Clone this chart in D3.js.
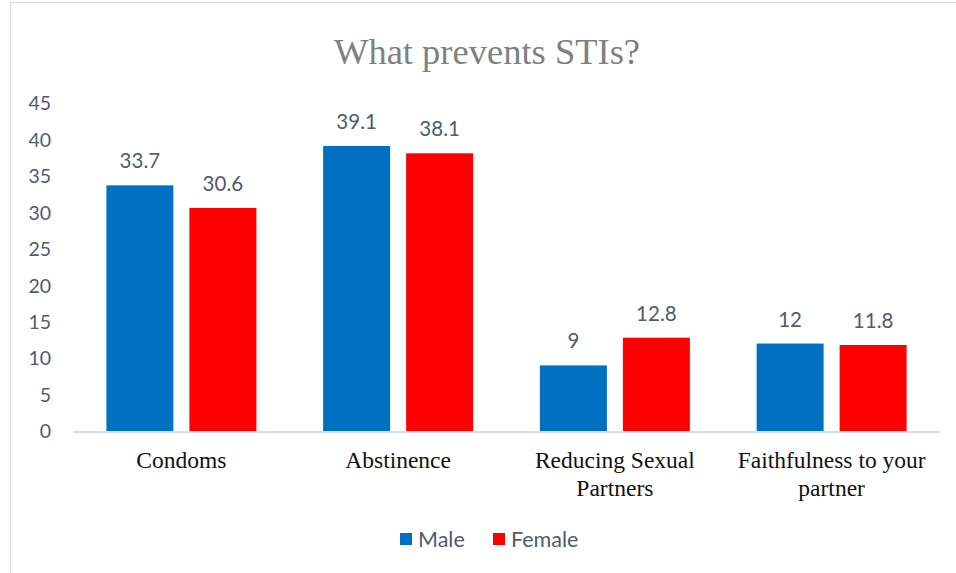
<!DOCTYPE html>
<html>
<head>
<meta charset="utf-8">
<script src="https://cdn.jsdelivr.net/npm/d3@7"></script>
<style>
  html, body { margin: 0; padding: 0; background: #fff; }
  svg { display: block; }
</style>
</head>
<body>
<svg id="chart" width="956" height="573"></svg>
<script>
// Categories, series and axis ticks
const categories = [
  ["Condoms"],
  ["Abstinence"],
  ["Reducing Sexual", "Partners"],
  ["Faithfulness to your", "partner"]
];
const seriesNames = ["Male", "Female"];
const maleValues = [33.7, 39.1, 9, 12];
const femaleValues = [30.6, 38.1, 12.8, 11.8];
const yTicks = [0, 5, 10, 15, 20, 25, 30, 35, 40, 45];
const colors = ["#0070C0", "#FF0000"];

const svg = d3.select("#chart");

// Chart frame (extends past the right and bottom edges)
svg.append("rect")
  .attr("x", 10.5).attr("y", 2.5)
  .attr("width", 1000).attr("height", 700)
  .attr("fill", "#fff")
  .attr("stroke", "#d9dde4").attr("stroke-width", 1.2);

// Title
svg.append("text")
  .attr("x", 487).attr("y", 64)
  .attr("text-anchor", "middle")
  .attr("font-family", "'Liberation Serif', 'Times New Roman', serif")
  .attr("font-size", 36.5)
  .attr("fill", "#808080")
  .text("What prevents STIs?");

const margin = { left: 73, right: 940, top: 103, bottom: 431 };

const x0 = d3.scaleBand()
  .domain(d3.range(categories.length))
  .range([margin.left, margin.right])
  .paddingInner(0)
  .paddingOuter(0);

const bw = x0.bandwidth();
const x1 = d3.scaleBand()
  .domain(seriesNames)
  .range([bw * 0.154, bw * 0.846])
  .paddingInner(0.193)
  .paddingOuter(0);

const y = d3.scaleLinear()
  .domain([0, 45])
  .range([margin.bottom, margin.top]);

const sansFont = "Lato, 'Open Sans', sans-serif";
const labelColor = "#4f5b6e";

// Y axis labels (no axis line)
const yAxis = d3.axisLeft(y).tickValues(yTicks).tickSize(0).tickPadding(0);
const gy = svg.append("g")
  .attr("transform", "translate(51,0)")
  .call(yAxis);
gy.select(".domain").remove();
gy.selectAll("text")
  .attr("font-family", sansFont)
  .attr("font-size", 19.5)
  .attr("fill", labelColor)
  .attr("dy", "0.35em");

// Bars
const data = categories.map((c, i) => ({
  i,
  values: [
    { name: seriesNames[0], value: maleValues[i] },
    { name: seriesNames[1], value: femaleValues[i] }
  ]
}));

const groups = svg.append("g").selectAll("g")
  .data(data).join("g")
  .attr("transform", d => `translate(${x0(d.i)},0)`);

groups.selectAll("rect")
  .data(d => d.values).join("rect")
  .attr("x", d => x1(d.name))
  .attr("width", x1.bandwidth())
  .attr("y", d => y(d.value))
  .attr("height", d => y(0) - y(d.value))
  .attr("fill", (d, j) => colors[j]);

// Value labels
groups.selectAll("text.val")
  .data(d => d.values).join("text")
  .attr("class", "val")
  .attr("x", d => x1(d.name) + x1.bandwidth() / 2)
  .attr("y", d => y(d.value) - 17)
  .attr("text-anchor", "middle")
  .attr("font-family", sansFont)
  .attr("font-size", 20.5)
  .attr("fill", labelColor)
  .text(d => d.value);

// Baseline
svg.append("line")
  .attr("x1", margin.left).attr("x2", margin.right)
  .attr("y1", y(0) + 1).attr("y2", y(0) + 1)
  .attr("stroke", "#d9dde4").attr("stroke-width", 2);

// Category labels
const cat = svg.append("g").selectAll("text")
  .data(categories).join("text")
  .attr("x", (d, i) => x0(i) + x0.bandwidth() / 2)
  .attr("y", 468)
  .attr("text-anchor", "middle")
  .attr("font-family", "'Liberation Serif', 'Times New Roman', serif")
  .attr("font-size", 23.5)
  .attr("fill", "#111");
cat.selectAll("tspan")
  .data(d => d).join("tspan")
  .attr("x", function () { return d3.select(this.parentNode).attr("x"); })
  .attr("dy", (d, k) => k === 0 ? 0 : 28)
  .text(d => d);

// Legend
const legendItems = [
  { name: seriesNames[0], x: 400 },
  { name: seriesNames[1], x: 493 }
];
const lg = svg.append("g").selectAll("g")
  .data(legendItems).join("g")
  .attr("transform", d => `translate(${d.x},533)`);
lg.append("rect")
  .attr("width", 12).attr("height", 12)
  .attr("fill", (d, j) => colors[j]);
lg.append("text")
  .attr("x", 18).attr("y", 6)
  .attr("dy", "0.36em")
  .attr("font-family", sansFont)
  .attr("font-size", 21.5)
  .attr("fill", labelColor)
  .text(d => d.name);
</script>
</body>
</html>
